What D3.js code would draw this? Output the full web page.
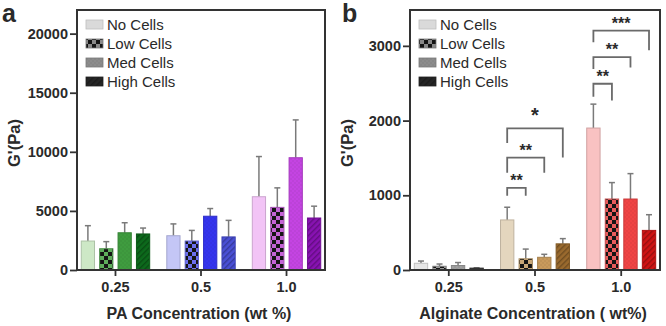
<!DOCTYPE html>
<html>
<head>
<meta charset="utf-8">
<script src="https://cdn.jsdelivr.net/npm/d3@7"></script>
<style>
  body { margin: 0; background: #fff; }
  text { font-family: "Liberation Sans", Arial, sans-serif; fill: #2a2a2a; }
</style>
</head>
<body>
<div id="chart"></div>
<script>
// data
const groupsA = ["0.25", "0.5", "1.0"];
const groupsB = ["0.25", "0.5", "1.0"];
const seriesNames = ["No Cells", "Low Cells", "Med Cells", "High Cells"];
const meanA = [[2450, 1800, 3150, 3050], [2900, 2450, 4550, 2800], [6200, 5300, 9500, 4400]];
const errA = [[1300, 600, 850, 500], [1000, 900, 650, 1400], [3400, 1650, 3200, 1000]];
const meanB = [[90, 50, 60, 25], [670, 150, 170, 350], [1900, 950, 950, 530]];
const errB = [[30, 30, 40, 5], [170, 130, 40, 70], [320, 220, 340, 210]];
const ticksA = [0, 5000, 10000, 15000, 20000];
const ticksB = [0, 1000, 2000, 3000];
const colorsA = [["#cde8c6", "#5fae5c", "#3f9c3f", "#0d6a1c"],
                 ["#c4c6f6", "#6c70ee", "#3434ee", "#4a50d6"],
                 ["#f2c4f6", "#c463d6", "#c444e2", "#8812b2"]];
const colorsB = [["#e6e6e6", "#9a9a9a", "#a0a0a0", "#333333"],
                 ["#e4d6be", "#c9a878", "#c89a5c", "#9a6a2e"],
                 ["#f9c2c2", "#e85c5c", "#f04444", "#d01414"]];
const legendColors = ["#dadada", "#8a8a8a", "#8c8c8c", "#262626"];
// significance brackets for panel b: group, from bar, to bar, top / left leg / right leg (Pa), label
const sigB = [
  { g: 1, a: 0, b: 1, top: 1100, l: 995, r: 995, label: "**" },
  { g: 1, a: 0, b: 2, top: 1505, l: 1300, r: 1300, label: "**" },
  { g: 1, a: 0, b: 3, top: 1895, l: 1700, r: 1505, label: "*" },
  { g: 2, a: 0, b: 1, top: 2493, l: 2320, r: 2270, label: "**" },
  { g: 2, a: 0, b: 2, top: 2850, l: 2690, r: 2710, label: "**" },
  { g: 2, a: 0, b: 3, top: 3203, l: 3050, r: 2940, label: "***" }
];

const svg = d3.select("#chart").append("svg")
  .attr("width", 666)
  .attr("height", 326);
const defs = svg.append("defs");

// pattern fills: 1 = checker, 2 = dots, 3 = hatch
let patId = 0;
function fillFor(color, kind) {
  if (kind === 0) return color;
  const id = "p" + (patId++);
  const dark = d3.color(color).darker(0.8).formatHex();
  if (kind === 1) {
    const p = defs.append("pattern").attr("id", id).attr("patternUnits", "userSpaceOnUse")
      .attr("width", 8).attr("height", 8);
    p.append("rect").attr("width", 8).attr("height", 8).attr("fill", color);
    p.append("rect").attr("width", 4).attr("height", 4).attr("fill", "#151515");
    p.append("rect").attr("x", 4).attr("y", 4).attr("width", 4).attr("height", 4).attr("fill", "#151515");
  } else if (kind === 2) {
    const p = defs.append("pattern").attr("id", id).attr("patternUnits", "userSpaceOnUse")
      .attr("width", 4).attr("height", 4);
    p.append("rect").attr("width", 4).attr("height", 4).attr("fill", color);
    p.append("circle").attr("cx", 1).attr("cy", 1).attr("r", 0.7).attr("fill", dark).attr("opacity", 0.5);
    p.append("circle").attr("cx", 3).attr("cy", 3).attr("r", 0.7).attr("fill", dark).attr("opacity", 0.5);
  } else {
    const p = defs.append("pattern").attr("id", id).attr("patternUnits", "userSpaceOnUse")
      .attr("width", 4).attr("height", 4).attr("patternTransform", "rotate(45)");
    p.append("rect").attr("width", 4).attr("height", 4).attr("fill", color);
    p.append("rect").attr("width", 1.4).attr("height", 4).attr("fill", d3.color(color).darker(0.9).formatHex());
  }
  return "url(#" + id + ")";
}

function drawPanel(opt) {
  const { left, right, top, bottom, ymax, ticks, groups, mean, err, colors, xtitle, letter, letterX } = opt;

  const x0 = d3.scaleBand().domain(groups).range([left, right]).paddingInner(0.2).paddingOuter(0.05);
  const x1 = d3.scaleBand().domain(seriesNames).range([0, x0.bandwidth()]).paddingInner(0.28).paddingOuter(0);
  const y = d3.scaleLinear().domain([0, ymax]).range([bottom, top]);

  const g = svg.append("g");

  // bars
  groups.forEach((grp, gi) => {
    seriesNames.forEach((s, si) => {
      const bx = x0(grp) + x1(s);
      const v = mean[gi][si];
      const e = err[gi][si];
      const cx = bx + x1.bandwidth() / 2;
      // error bar (upper only)
      g.append("line").attr("x1", cx).attr("x2", cx)
        .attr("y1", y(v)).attr("y2", y(v + e))
        .attr("stroke", "#7a7a7a").attr("stroke-width", 1.5);
      g.append("line").attr("x1", cx - 3).attr("x2", cx + 3)
        .attr("y1", y(v + e)).attr("y2", y(v + e))
        .attr("stroke", "#7a7a7a").attr("stroke-width", 1.5);
      g.append("rect")
        .attr("x", bx).attr("y", y(v))
        .attr("width", x1.bandwidth()).attr("height", y(0) - y(v))
        .attr("fill", fillFor(colors[gi][si], si))
        .attr("stroke", d3.color(colors[gi][si]).darker(0.5).formatHex())
        .attr("stroke-width", 1);
    });
  });

  // frame
  g.append("rect").attr("x", left).attr("y", top)
    .attr("width", right - left).attr("height", bottom - top)
    .attr("fill", "none").attr("stroke", "#333").attr("stroke-width", 2);

  // y axis
  const ya = g.append("g").attr("transform", `translate(${left},0)`)
    .call(d3.axisLeft(y).tickValues(ticks).tickSize(7).tickPadding(2).tickFormat(d3.format("d")));
  ya.select(".domain").remove();
  ya.selectAll(".tick line").attr("stroke", "#333").attr("stroke-width", 1.8);
  ya.selectAll(".tick text").attr("font-size", 14.5).attr("font-weight", "bold")
    .attr("font-family", "Liberation Sans, Arial, sans-serif").attr("fill", "#2a2a2a");

  // x axis
  const xa = g.append("g").attr("transform", `translate(0,${bottom})`)
    .call(d3.axisBottom(x0).tickSize(6).tickPadding(6));
  xa.select(".domain").remove();
  xa.selectAll(".tick line").attr("stroke", "#333").attr("stroke-width", 1.8);
  xa.selectAll(".tick text").attr("font-size", 14.5).attr("font-weight", "bold")
    .attr("font-family", "Liberation Sans, Arial, sans-serif").attr("fill", "#2a2a2a");

  // titles
  g.append("text").attr("x", (left + right) / 2 - 2).attr("y", 319)
    .attr("text-anchor", "middle").attr("font-size", 16).attr("font-weight", "bold").text(xtitle);
  g.append("text").attr("transform", `translate(${left - 57},${(top + bottom) / 2 + 3}) rotate(-90)`)
    .attr("text-anchor", "middle").attr("font-size", 16.5).attr("font-weight", "bold").text("G'(Pa)");
  g.append("text").attr("x", letterX).attr("y", 22)
    .attr("font-size", 25).attr("font-weight", "bold").attr("fill", "#111").text(letter);

  // legend
  const leg = g.selectAll("g.legend").data(seriesNames).enter().append("g").attr("class", "legend");
  leg.append("rect")
    .attr("x", left + 9).attr("y", (d, i) => 20 + i * 19)
    .attr("width", 17).attr("height", 9)
    .attr("fill", (d, i) => fillFor(legendColors[i], i))
    .attr("stroke", (d, i) => d3.color(legendColors[i]).darker(0.4).formatHex())
    .attr("stroke-width", 0.8);
  leg.append("text")
    .attr("x", left + 30).attr("y", (d, i) => 30 + i * 19)
    .attr("font-size", 15).text(d => d);

  return { x0, x1, y, g };
}

drawPanel({
  left: 77, right: 325, top: 10, bottom: 270, ymax: 22000, ticks: ticksA,
  groups: groupsA, mean: meanA, err: errA, colors: colorsA,
  xtitle: "PA Concentration (wt %)", letter: "a", letterX: 2
});

const pb = drawPanel({
  left: 410, right: 660, top: 10, bottom: 270, ymax: 3480, ticks: ticksB,
  groups: groupsB, mean: meanB, err: errB, colors: colorsB,
  xtitle: "Alginate Concentration ( wt%)", letter: "b", letterX: 342
});

// significance brackets
sigB.forEach(s => {
  const grp = groupsB[s.g];
  const xa = pb.x0(grp) + pb.x1(seriesNames[s.a]) + pb.x1.bandwidth() / 2;
  const xb = pb.x0(grp) + pb.x1(seriesNames[s.b]) + pb.x1.bandwidth() / 2;
  pb.g.append("path")
    .attr("d", `M${xa},${pb.y(s.l)}V${pb.y(s.top)}H${xb}V${pb.y(s.r)}`)
    .attr("fill", "none").attr("stroke", "#6a6a6a").attr("stroke-width", 1.8);
  pb.g.append("text")
    .attr("x", (xa + xb) / 2).attr("y", pb.y(s.top) + 2)
    .attr("dy", s.label === "*" ? -8 : -4)
    .attr("text-anchor", "middle").attr("font-size", s.label === "*" ? 20 : 16)
    .attr("font-weight", "bold").attr("fill", "#222").text(s.label);
});
</script>
</body>
</html>
